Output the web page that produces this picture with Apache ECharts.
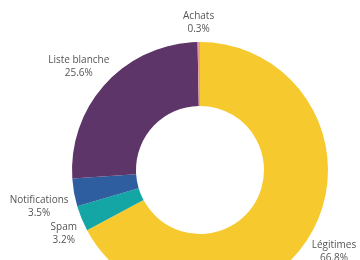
<!DOCTYPE html>
<html>
<head>
    <meta charset="utf-8">
    <script src="https://cdn.jsdelivr.net/npm/echarts@6/dist/echarts.min.js"></script>
</head>
<body style="margin:0">
    <div id="main" style="width: 360px;height:260px;"></div>
    <script type="text/javascript">
        var categories = ['Légitimes', 'Spam', 'Notifications', 'Liste blanche', 'Achats'];
        var values = [66.8, 3.2, 3.5, 25.6, 0.3];
        var colors = ['#F6C92F', '#14A5A5', '#2E5E9F', '#5E3568', '#E79A9A'];

        var cx = 200, cy = 170, outerR = 128, labelR = 134;
        var total = values.reduce(function (a, b) { return a + b; }, 0);

        // put each label just outside its slice: sideways along the mid angle,
        // vertically the box edge sits on the label circle
        function placeLabel(params) {
            var i = params.dataIndex;
            var before = 0;
            for (var k = 0; k < i; k++) before += values[k];
            var mid = (before + values[i] / 2) / total * Math.PI * 2;
            var dx = Math.sin(mid), dy = -Math.cos(mid);
            var w = params.labelRect.width, h = params.labelRect.height;
            return {
                x: cx + labelR * dx + dx * w / 2,
                y: cy + labelR * dy + (dy < 0 ? -1 : 1) * h / 2,
                align: 'center',
                verticalAlign: 'middle'
            };
        }

        var myChart = echarts.init(document.getElementById('main'));
        var option = {
            animation: false,
            series: [{
                type: 'pie',
                center: [cx, cy],
                radius: [64, outerR],
                startAngle: 90,
                clockwise: true,
                avoidLabelOverlap: false,
                label: {
                    show: true,
                    position: 'outside',
                    formatter: '{b}\n{c}%',
                    fontFamily: 'Open Sans',
                    fontSize: 10,
                    lineHeight: 13,
                    color: '#555'
                },
                labelLine: { show: false },
                labelLayout: placeLabel,
                itemStyle: { borderWidth: 0 },
                emphasis: { disabled: true },
                data: categories.map(function (name, i) {
                    return { name: name, value: values[i], itemStyle: { color: colors[i] } };
                })
            }]
        };
        myChart.setOption(option);
    </script>
</body>
</html>
